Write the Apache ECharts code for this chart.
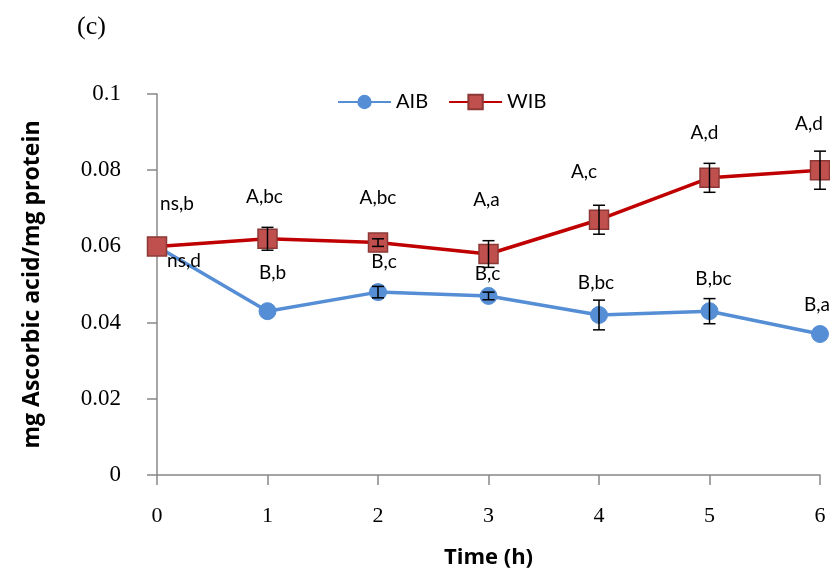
<!DOCTYPE html>
<html><head><meta charset="utf-8">
<script src="https://cdn.jsdelivr.net/npm/echarts@6/dist/echarts.min.js"></script>
<style>html,body{margin:0;padding:0;background:#fff}#c{width:830px;height:586px}</style>
</head><body><div id="c"></div>
<script>
const times = [0, 1, 2, 3, 4, 5, 6];
const aib = [0.060, 0.043, 0.048, 0.047, 0.042, 0.043, 0.037];
const aibErr = [0, 0, 0.0015, 0.001, 0.0039, 0.0033, 0];
const wib = [0.060, 0.062, 0.061, 0.058, 0.067, 0.078, 0.080];
const wibErr = [0, 0.003, 0.001, 0.0035, 0.0038, 0.0038, 0.005];
const aibLabels = ['ns,d', 'B,b', 'B,c', 'B,c', 'B,bc', 'B,bc', 'B,a'];
const wibLabels = ['ns,b', 'A,bc', 'A,bc', 'A,a', 'A,c', 'A,d', 'A,d'];
const yTicks = [0, 0.02, 0.04, 0.06, 0.08, 0.1];

const aibOffsets = [[27, 14], [5, -38], [6, -30], [-1, -22], [-3, -32], [4, -32], [-3, -29]];
const wibOffsets = [[20, -43], [-3, -42], [0, -45], [-2, -54], [-15, -48], [-5, -45], [-11, -46]];

function errSeries(vals, errs, name) {
  return {
    type: 'custom', name: name + 'err', z: 5, silent: true,
    data: times.map((t, i) => [t, vals[i], errs[i]]),
    renderItem: function (params, api) {
      const e = api.value(2);
      if (!e) return null;
      const x = api.value(0), y = api.value(1);
      const top = api.coord([x, y + e]);
      const bot = api.coord([x, y - e]);
      const w = 6;
      const st = { stroke: '#000', lineWidth: 1.5 };
      return { type: 'group', children: [
        { type: 'line', shape: { x1: top[0], y1: top[1], x2: bot[0], y2: bot[1] }, style: st },
        { type: 'line', shape: { x1: top[0] - w, y1: top[1], x2: top[0] + w, y2: top[1] }, style: st },
        { type: 'line', shape: { x1: bot[0] - w, y1: bot[1], x2: bot[0] + w, y2: bot[1] }, style: st }
      ]};
    }
  };
}

const labelStyle = { show: true, color: '#000', fontFamily: 'Lato', fontSize: 19, position: 'inside' };

const chart = echarts.init(document.getElementById('c'));
chart.setOption({
  animation: false,
  backgroundColor: '#fff',
  title: { text: '(c)', left: 72, top: 9, textStyle: { fontFamily: 'Liberation Serif', fontWeight: 'normal', fontSize: 26, color: '#000' } },
  legend: {
    top: 87, left: 332, itemWidth: 53, itemHeight: 18, itemGap: 20,
    textStyle: { fontFamily: 'Lato', fontSize: 20, color: '#000' },
    data: ['AIB', 'WIB']
  },
  grid: { left: 157, right: 10, top: 94, bottom: 111 },
  xAxis: {
    type: 'value', min: 0, max: 6, interval: 1,
    name: 'Time (h)', nameLocation: 'middle', nameGap: 72,
    nameTextStyle: { fontFamily: 'Open Sans', fontWeight: 'bold', fontSize: 22, color: '#000' },
    axisLine: { lineStyle: { color: '#888', width: 1.5 } },
    axisTick: { show: true, length: 10, lineStyle: { color: '#888', width: 1.5 } },
    splitLine: { show: false },
    axisLabel: { margin: 30, fontFamily: 'Liberation Serif', fontSize: 22, color: '#000', formatter: v => times.includes(v) ? String(v) : '' }
  },
  yAxis: {
    type: 'value', min: 0, max: 0.1, interval: 0.02,
    name: 'mg Ascorbic acid/mg protein', nameLocation: 'middle', nameGap: 113,
    nameTextStyle: { fontFamily: 'Open Sans', fontWeight: 'bold', fontSize: 23, color: '#000' },
    axisLine: { show: true, lineStyle: { color: '#888', width: 1.5 } },
    axisTick: { show: true, length: 10, lineStyle: { color: '#888', width: 1.5 } },
    splitLine: { show: false },
    axisLabel: { margin: 36, fontFamily: 'Liberation Serif', fontSize: 23, color: '#000',
      formatter: v => { const t = yTicks.find(k => Math.abs(k - v) < 1e-9); return t === undefined ? '' : String(+t.toFixed(2)); } }
  },
  series: [
    {
      name: 'AIB', type: 'line', z: 3,
      data: times.map((t, i) => ({ value: [t, aib[i]], label: Object.assign({}, labelStyle, { formatter: aibLabels[i], offset: aibOffsets[i] }) })),
      symbol: 'circle', symbolSize: 17,
      lineStyle: { color: '#558ED5', width: 3.5 },
      itemStyle: { color: '#558ED5', borderColor: '#558ED5' }
    },
    {
      name: 'WIB', type: 'line', z: 4,
      data: times.map((t, i) => ({ value: [t, wib[i]], label: Object.assign({}, labelStyle, { formatter: wibLabels[i], offset: wibOffsets[i] }) })),
      symbol: 'rect', symbolSize: 19,
      lineStyle: { color: '#C00000', width: 3.5 },
      itemStyle: { color: '#C0504D', borderColor: '#8C3836', borderWidth: 1.5 }
    },
    errSeries(aib, aibErr, 'AIB'),
    errSeries(wib, wibErr, 'WIB')
  ]
});
</script></body></html>
